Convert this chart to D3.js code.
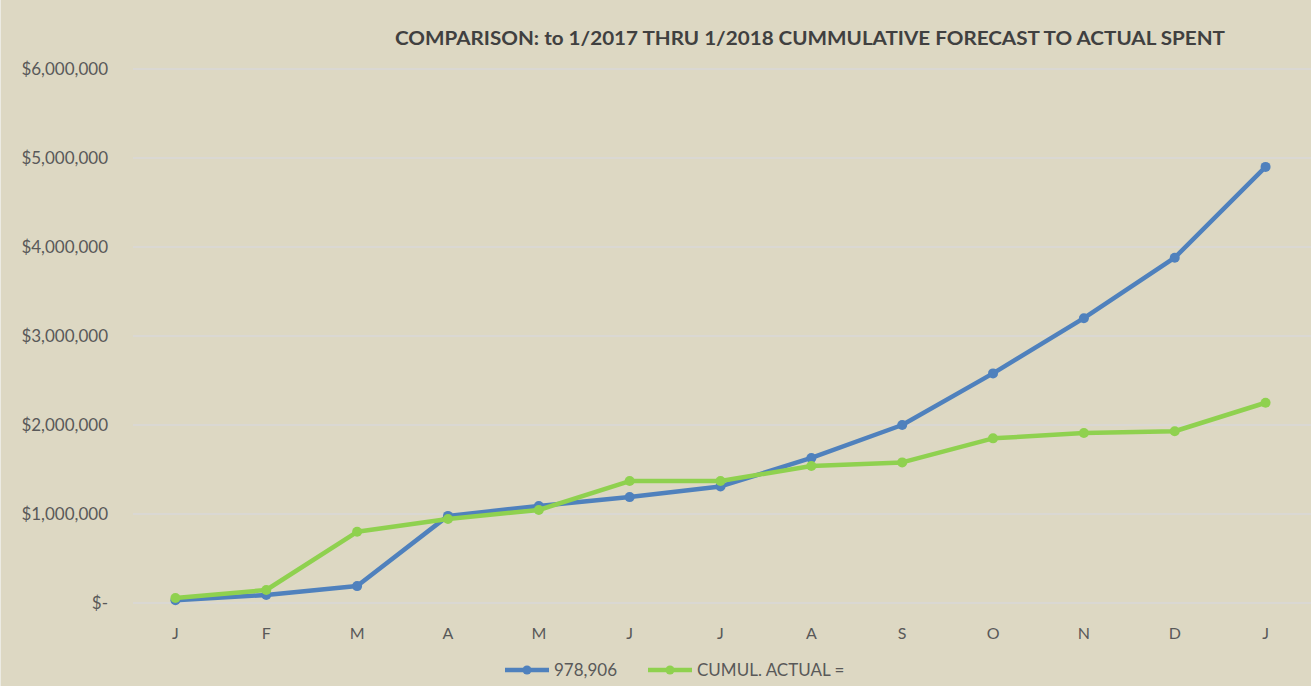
<!DOCTYPE html>
<html>
<head>
<meta charset="utf-8">
<script src="https://cdn.jsdelivr.net/npm/d3@7"></script>
<style>
  html, body { margin: 0; padding: 0; background: #ddd8c3; }
  svg { display: block; font-family: Lato, "Open Sans", sans-serif; }
  .tick-y { font-size: 17px; fill: #595959; }
  .tick-x { font-size: 16px; fill: #595959; }
  .title { font-size: 19px; font-weight: bold; fill: #404040; }
  .legend { font-size: 17px; fill: #595959; }
</style>
</head>
<body>
<div id="chart"></div>
<script>
// month initials, 1/2017 thru 1/2018
const months = ['J', 'F', 'M', 'A', 'M', 'J', 'J', 'A', 'S', 'O', 'N', 'D', 'J'];
// cumulative forecast (legend reads "978,906")
const forecast = [30000, 90000, 190000, 978906, 1090000, 1190000, 1310000, 1630000, 2000000, 2580000, 3200000, 3880000, 4900000];
// cumulative actual spent
const actual = [56000, 146000, 800000, 944000, 1045000, 1370000, 1370000, 1540000, 1580000, 1850000, 1910000, 1930000, 2250000];
const yTicks = [0, 1000000, 2000000, 3000000, 4000000, 5000000, 6000000];
const seriesNames = ['978,906', 'CUMUL. ACTUAL ='];

const W = 1311, H = 686;
const margin = { top: 69, right: 0, bottom: 83, left: 130 };

const svg = d3.select('#chart').append('svg')
  .attr('width', W).attr('height', H);

svg.append('rect').attr('width', W).attr('height', H).attr('fill', '#ddd8c3');
svg.append('line').attr('x1', 0.5).attr('x2', 0.5).attr('y1', 0).attr('y2', H)
  .attr('stroke', '#ecebe3').attr('stroke-width', 1);

const x = d3.scalePoint()
  .domain(d3.range(months.length))
  .range([margin.left, W - margin.right])
  .padding(0.5);

const y = d3.scaleLinear()
  .domain([0, 6000000])
  .range([H - margin.bottom, margin.top]);

// gridlines
svg.append('g').selectAll('line')
  .data(yTicks).enter().append('line')
  .attr('x1', 133).attr('x2', W)
  .attr('y1', d => y(d)).attr('y2', d => y(d))
  .attr('stroke', '#d9d9d9').attr('stroke-width', 1.5);

// y labels
const fmt = d3.format(',');
svg.append('g').selectAll('text')
  .data(yTicks).enter().append('text')
  .attr('class', 'tick-y')
  .attr('x', 108)
  .attr('y', d => y(d) + 6)
  .attr('text-anchor', 'end')
  .text(d => d === 0 ? '$-' : '$' + fmt(d));

// x labels
svg.append('g').selectAll('text')
  .data(months).enter().append('text')
  .attr('class', 'tick-x')
  .attr('x', (d, i) => x(i))
  .attr('y', 639)
  .attr('text-anchor', 'middle')
  .text(d => d);

// title
svg.append('text')
  .attr('class', 'title')
  .attr('x', 810).attr('y', 45)
  .attr('text-anchor', 'middle')
  .attr('textLength', 830)
  .attr('lengthAdjust', 'spacingAndGlyphs')
  .text('COMPARISON: to 1/2017 THRU 1/2018 CUMMULATIVE FORECAST TO ACTUAL SPENT');

const line = d3.line()
  .x((d, i) => x(i))
  .y(d => y(d));

const series = [
  { values: forecast, color: '#4f81bd' },
  { values: actual, color: '#8fd14f' },
];

series.forEach(s => {
  const g = svg.append('g');
  g.append('path')
    .attr('d', line(s.values))
    .attr('fill', 'none')
    .attr('stroke', s.color)
    .attr('stroke-width', 4.5)
    .attr('stroke-linejoin', 'round');
  g.selectAll('circle')
    .data(s.values).enter().append('circle')
    .attr('cx', (d, i) => x(i))
    .attr('cy', d => y(d))
    .attr('r', 5)
    .attr('fill', s.color);
});

// legend
const legend = svg.append('g');
const legendX = [505, 648];
series.forEach((s, i) => {
  const lx = legendX[i], ly = 670;
  legend.append('line')
    .attr('x1', lx).attr('x2', lx + 44)
    .attr('y1', ly).attr('y2', ly)
    .attr('stroke', s.color).attr('stroke-width', 4.5);
  legend.append('circle')
    .attr('cx', lx + 22).attr('cy', ly).attr('r', 4.5)
    .attr('fill', s.color);
  legend.append('text')
    .attr('class', 'legend')
    .attr('x', lx + 49).attr('y', ly + 6)
    .text(seriesNames[i]);
});
</script>
</body>
</html>
